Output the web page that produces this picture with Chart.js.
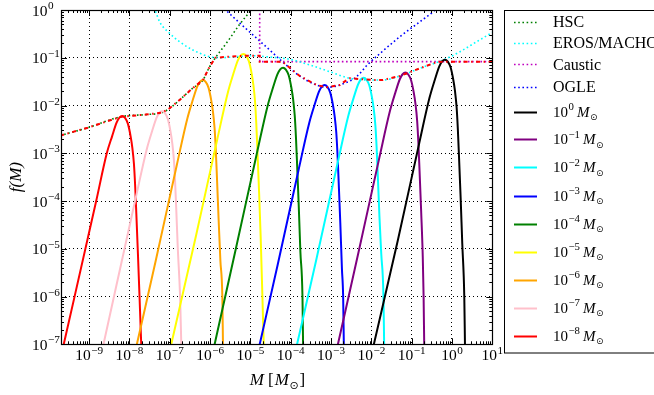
<!DOCTYPE html>
<html><head><meta charset="utf-8">
<script src="https://cdn.jsdelivr.net/npm/chart.js@4.4.1/dist/chart.umd.min.js"></script>
<style>html,body{margin:0;padding:0;background:#fff;}#wrap{position:relative;width:654px;height:395px;}</style>
</head><body><div id="wrap"><canvas id="c" width="654" height="395"></canvas></div>
<script>
// ---- values (log10 of M [M_sun] and log10 of f(M)) ----
const xTickExps = [-9,-8,-7,-6,-5,-4,-3,-2,-1,0,1];
const yTickExps = [0,-1,-2,-3,-4,-5,-6,-7];

const logM_HSC = [-9.72,-9.035,-8.205,-7.6,-7.197,-7.005,-6.757,-6.45,-6.178,-6.012,-5.515,-5.267,-5.018,-4.9];
const logF_HSC = [-2.63,-2.464,-2.234,-2.19,-2.15,-2.058,-1.884,-1.65,-1.466,-1.187,-0.6,-0.3,-0.035,0.1];

const logM_EROS = [-7.40,-7.336,-7.254,-7.005,-6.757,-6.427,-6.012,-5.763,-5.3,-5.0,-4.521,-4.025,-3.528,-3.031,-2.535,-1.963,-1.715,-1.292,-0.795,-0.217,0.198,0.613,1.0];
const logF_EROS = [0.05,-0.069,-0.245,-0.488,-0.664,-0.838,-0.978,-0.999,-0.975,-0.955,-0.985,-1.032,-1.152,-1.292,-1.43,-1.466,-1.466,-1.382,-1.221,-1.047,-0.873,-0.664,-0.47];

const logM_Caustic = [-4.77,-4.77,1.0];
const logF_Caustic = [0.1,-1.082,-1.082];

const logM_OGLE = [-5.65,-5.614,-5.018,-4.521,-4.199,-3.776,-3.362,-3.113,-2.783,-2.368,-2.1,-1.789,-1.292,-0.795,-0.465,-0.40];
const logF_OGLE = [0.03,0.0,-0.461,-0.838,-1.089,-1.382,-1.570,-1.619,-1.570,-1.397,-1.15,-0.913,-0.559,-0.245,-0.036,0.01];

const logM_Env = [-9.72,-9.035,-8.205,-7.6,-7.197,-7.005,-6.757,-6.45,-6.178,-6.012,-5.87,-5.5,-5.0,-4.77,-4.77,-4.25,-4.199,-3.776,-3.362,-3.113,-2.783,-2.6,-2.535,-1.963,-1.715,-1.292,-0.795,-0.35,1.0];
const logF_Env = [-2.63,-2.464,-2.234,-2.19,-2.15,-2.058,-1.884,-1.65,-1.466,-1.187,-1.0,-0.975,-0.955,-0.96,-1.082,-1.082,-1.089,-1.382,-1.570,-1.619,-1.570,-1.46,-1.43,-1.466,-1.466,-1.382,-1.221,-1.082,-1.082];

const logM_1e0 = [-1.938,-1.343,-0.821,-0.558,-0.425,-0.315,-0.245,-0.175,-0.105,-0.035,0.032,0.075,0.115,0.145,0.175,0.215,0.255,0.305,0.322];
const logF_1e0 = [-7,-4.82,-2.82,-1.84,-1.46,-1.18,-1.075,-1.04,-1.08,-1.2,-1.46,-1.70,-2.04,-2.49,-3.09,-3.94,-4.89,-6,-7];

const logM_1e1 = [-2.83,-2.323,-1.801,-1.538,-1.405,-1.295,-1.225,-1.155,-1.085,-1.015,-0.948,-0.905,-0.865,-0.835,-0.805,-0.765,-0.725,-0.704,-0.689];
const logF_1e1 = [-7,-5.09,-3.09,-2.11,-1.73,-1.45,-1.345,-1.31,-1.35,-1.47,-1.73,-1.97,-2.31,-2.76,-3.36,-4.21,-5.16,-6,-7];

const logM_1e2 = [-3.843,-3.358,-2.836,-2.573,-2.44,-2.33,-2.26,-2.19,-2.12,-2.05,-1.983,-1.94,-1.90,-1.87,-1.84,-1.80,-1.755,-1.70,-1.683];
const logF_1e2 = [-7,-5.2,-3.2,-2.22,-1.84,-1.56,-1.455,-1.42,-1.46,-1.58,-1.84,-2.08,-2.42,-2.87,-3.47,-4.32,-5.1,-6,-7];

const logM_1e3 = [-4.77,-4.328,-3.806,-3.543,-3.41,-3.30,-3.23,-3.16,-3.09,-3.02,-2.953,-2.91,-2.87,-2.84,-2.81,-2.77,-2.73,-2.70,-2.683];
const logF_1e3 = [-7,-5.35,-3.35,-2.37,-1.99,-1.71,-1.605,-1.57,-1.61,-1.73,-1.99,-2.23,-2.57,-3.02,-3.62,-4.47,-5.42,-6,-7];

const logM_1e4 = [-5.888,-5.359,-4.837,-4.574,-4.441,-4.331,-4.261,-4.191,-4.121,-4.051,-3.984,-3.941,-3.901,-3.871,-3.841,-3.801,-3.761,-3.709,-3.694];
const logF_1e4 = [-7,-4.988,-2.988,-2.008,-1.628,-1.348,-1.243,-1.208,-1.248,-1.368,-1.628,-1.868,-2.208,-2.658,-3.258,-4.108,-5.058,-6,-7];

const logM_1e5 = [-6.964,-6.343,-5.821,-5.558,-5.425,-5.315,-5.245,-5.175,-5.105,-5.035,-4.968,-4.925,-4.885,-4.855,-4.825,-4.785,-4.745,-4.703,-4.67];
const logF_1e5 = [-7,-4.701,-2.701,-1.721,-1.341,-1.061,-0.956,-0.921,-0.961,-1.081,-1.341,-1.581,-1.921,-2.371,-2.971,-3.821,-4.771,-6,-7];

const logM_1e6 = [-7.817,-7.348,-6.826,-6.563,-6.43,-6.32,-6.25,-6.18,-6.11,-6.04,-5.973,-5.93,-5.89,-5.86,-5.83,-5.79,-5.745,-5.697,-5.681];
const logF_1e6 = [-7,-5.246,-3.246,-2.266,-1.886,-1.606,-1.501,-1.466,-1.506,-1.626,-1.886,-2.126,-2.466,-2.916,-3.516,-4.366,-5.25,-6,-7];

const logM_1e7 = [-8.645,-7.836,-7.573,-7.44,-7.33,-7.26,-7.19,-7.12,-7.05,-6.983,-6.94,-6.90,-6.87,-6.84,-6.80,-6.745,-6.715];
const logF_1e7 = [-7,-3.90,-2.92,-2.54,-2.26,-2.155,-2.12,-2.16,-2.28,-2.54,-2.78,-3.12,-3.57,-4.17,-5.02,-6.0,-7];

const logM_1e8 = [-9.631,-8.826,-8.563,-8.43,-8.32,-8.25,-8.18,-8.11,-8.04,-7.973,-7.93,-7.89,-7.86,-7.83,-7.79,-7.751,-7.709];
const logF_1e8 = [-7,-4,-3,-2.64,-2.36,-2.255,-2.22,-2.26,-2.38,-2.64,-2.88,-3.22,-3.67,-4.27,-5.12,-6.0,-7];

// ---- build datasets ----
const pts = (lm, lf) => lm.map((v, i) => ({x: Math.pow(10, v), y: Math.pow(10, lf[i])}));
const SERIF = '"Liberation Serif","DejaVu Serif",serif';

const constraints = [
  {label:'HSC', color:'#008000', m:logM_HSC, f:logF_HSC, mono:true},
  {label:'EROS/MACHO', color:'#00ffff', m:logM_EROS, f:logF_EROS, mono:true},
  {label:'Caustic', color:'#bf00bf', m:logM_Caustic, f:logF_Caustic, mono:false},
  {label:'OGLE', color:'#0000ff', m:logM_OGLE, f:logF_OGLE, mono:true}
];
const masses = [
  {exp:'0', color:'#000000', m:logM_1e0, f:logF_1e0},
  {exp:'\u22121', color:'#800080', m:logM_1e1, f:logF_1e1},
  {exp:'\u22122', color:'#00ffff', m:logM_1e2, f:logF_1e2},
  {exp:'\u22123', color:'#0000ff', m:logM_1e3, f:logF_1e3},
  {exp:'\u22124', color:'#008000', m:logM_1e4, f:logF_1e4},
  {exp:'\u22125', color:'#ffff00', m:logM_1e5, f:logF_1e5},
  {exp:'\u22126', color:'#ffa500', m:logM_1e6, f:logF_1e6},
  {exp:'\u22127', color:'#ffc0cb', m:logM_1e7, f:logF_1e7},
  {exp:'\u22128', color:'#ff0000', m:logM_1e8, f:logF_1e8}
];
const supMap = {'0':'\u2070','1':'\u00b9','2':'\u00b2','3':'\u00b3','4':'\u2074','5':'\u2075','6':'\u2076','7':'\u2077','8':'\u2078','9':'\u2079','\u2212':'\u207b'};
const toSup = s => s.split('').map(ch => supMap[ch] || ch).join('');

const datasets = [];
constraints.forEach(c => datasets.push({
  label: c.label, data: pts(c.m, c.f), borderColor: c.color, borderWidth: 1.6,
  borderDash: [1.6, 2.6], borderCapStyle: 'butt', pointRadius: 0, fill: false,
  cubicInterpolationMode: c.mono ? 'monotone' : 'default', tension: 0, order: 3, legendStyle: 'dot'
}));
masses.forEach(s => datasets.push({
  label: '10' + toSup(s.exp) + ' M\u2299', data: pts(s.m, s.f), borderColor: s.color, borderWidth: 2,
  pointRadius: 0, fill: false, cubicInterpolationMode: 'monotone', order: 2, supExp: s.exp
}));
datasets.push({
  label: 'combined', data: pts(logM_Env, logF_Env), borderColor: '#ff0000', borderWidth: 2,
  borderDash: [4, 3.5, 1.5, 3.5], borderCapStyle: 'butt', pointRadius: 0, fill: false, tension: 0, order: 1, hideLegend: true
});

// ---- drawing helpers ----
function drawPow(ctx, x, y, sup, size, align) {
  ctx.font = size + 'px ' + SERIF;
  const wb = ctx.measureText('10').width;
  const ss = Math.round(size * 0.72 * 10) / 10;
  ctx.font = ss + 'px ' + SERIF;
  const ws = ctx.measureText(sup).width;
  const total = wb + 0.5 + ws;
  const x0 = align === 'center' ? x - total / 2 : (align === 'right' ? x - total : x);
  ctx.textAlign = 'left'; ctx.textBaseline = 'alphabetic';
  ctx.font = size + 'px ' + SERIF; ctx.fillText('10', x0, y);
  ctx.font = ss + 'px ' + SERIF; ctx.fillText(sup, x0 + wb + 0.5, y - size * 0.42);
  return x0 + total;
}
function drawMsun(ctx, x, y, size) {
  ctx.textAlign = 'left'; ctx.textBaseline = 'alphabetic';
  ctx.font = 'italic ' + size + 'px ' + SERIF;
  ctx.fillText('M', x, y);
  const w = ctx.measureText('M').width;
  ctx.font = Math.round(size * 0.62) + 'px "DejaVu Sans",sans-serif';
  ctx.fillText('\u2299', x + w + 0.5, y + size * 0.22);
  return x + w + 0.5 + ctx.measureText('\u2299').width;
}

const decorPlugin = {
  id: 'decor',
  afterDatasetsDraw(chart) {
    const ctx = chart.ctx, a = chart.chartArea;
    const xs = chart.scales.x, ys = chart.scales.y;
    ctx.save();
    ctx.strokeStyle = '#000'; ctx.lineWidth = 1; ctx.setLineDash([]);
    ctx.beginPath();
    for (let d = -10; d <= 1; d++) {
      for (let k = 1; k <= 9; k++) {
        const v = k * Math.pow(10, d);
        if (v < xs.min * 0.999 || v > xs.max * 1.001) continue;
        const px = Math.round(xs.getPixelForValue(v)) + 0.5;
        const L = k === 1 ? 6 : 3;
        ctx.moveTo(px, a.bottom); ctx.lineTo(px, a.bottom - L);
        ctx.moveTo(px, a.top); ctx.lineTo(px, a.top + L);
      }
    }
    for (let d = -7; d <= 0; d++) {
      for (let k = 1; k <= 9; k++) {
        const v = k * Math.pow(10, d);
        if (v < ys.min * 0.999 || v > ys.max * 1.001) continue;
        const py = Math.round(ys.getPixelForValue(v)) + 0.5;
        const L = k === 1 ? 6 : 3;
        ctx.moveTo(a.left, py); ctx.lineTo(a.left + L, py);
        ctx.moveTo(a.right, py); ctx.lineTo(a.right - L, py);
      }
    }
    ctx.stroke();
    ctx.lineWidth = 1.2;
    ctx.strokeRect(Math.round(a.left) + 0.5, Math.round(a.top) + 0.5, Math.round(a.right - a.left), Math.round(a.bottom - a.top));
    ctx.fillStyle = '#000';
    xs.ticks.forEach(t => {
      const e = Math.round(Math.log10(t.value));
      drawPow(ctx, xs.getPixelForValue(t.value), a.bottom + 16, String(e).replace('-', '\u2212'), 15.5, 'center');
    });
    ys.ticks.forEach(t => {
      const e = Math.round(Math.log10(t.value));
      drawPow(ctx, 32, ys.getPixelForValue(t.value) + 5.5, String(e).replace('-', '\u2212'), 15.5, 'left');
    });
    let x = (a.left + a.right) / 2 - 27;
    const by = 385;
    ctx.font = 'italic 17px ' + SERIF; ctx.fillText('M', x, by); x += ctx.measureText('M ').width;
    ctx.font = '17px ' + SERIF; ctx.fillText('[', x, by); x += ctx.measureText('[').width + 1;
    x = drawMsun(ctx, x, by, 17);
    ctx.font = '17px ' + SERIF; ctx.fillText(']', x + 1, by);
    ctx.save();
    ctx.translate(21, (a.top + a.bottom) / 2);
    ctx.rotate(-Math.PI / 2);
    ctx.textAlign = 'center';
    ctx.font = 'italic 17px ' + SERIF;
    ctx.fillText('f(M)', 0, 0);
    ctx.restore();
    ctx.lineWidth = 1; ctx.strokeStyle = '#000';
    ctx.strokeRect(504.5, 10.5, 220, 342.5);
    const rowsY = [21.7, 42.7, 64.3, 86.7, 111.7, 139.3, 167.3, 195.7, 223.7, 251.7, 279.7, 307.7, 335.7];
    const legendSets = chart.data.datasets.filter(d => !d.hideLegend);
    legendSets.forEach((d, i) => {
      const y = rowsY[i];
      ctx.save();
      ctx.strokeStyle = d.borderColor;
      if (d.legendStyle === 'dot') { ctx.lineWidth = 1.6; ctx.setLineDash([1.6, 2.6]); }
      else { ctx.lineWidth = 2; ctx.setLineDash([]); }
      ctx.beginPath(); ctx.moveTo(514, Math.round(y) + 0.5); ctx.lineTo(537, Math.round(y) + 0.5); ctx.stroke();
      ctx.restore();
      ctx.fillStyle = '#000';
      if (d.supExp !== undefined) {
        const xe = drawPow(ctx, 553, y + 5, d.supExp, 15, 'left');
        drawMsun(ctx, xe + 3, y + 5, 15);
      } else {
        ctx.font = '16px ' + SERIF; ctx.textAlign = 'left'; ctx.textBaseline = 'alphabetic';
        ctx.fillText(d.label, 553, y + 5.5);
      }
    });
    ctx.restore();
  }
};

new Chart(document.getElementById('c'), {
  type: 'line',
  data: { datasets },
  options: {
    responsive: false, animation: false, devicePixelRatio: 1,
    layout: { padding: { left: 0, right: 161.7, top: 10, bottom: 0 } },
    plugins: { legend: { display: false }, tooltip: { enabled: false } },
    scales: {
      x: {
        type: 'logarithmic', min: 2e-10, max: 10,
        afterBuildTicks: s => { s.ticks = xTickExps.map(e => ({ value: Math.pow(10, e) })); },
        afterFit: s => { s.height = 50.7; },
        ticks: { display: false },
        grid: { color: '#000', lineWidth: 1, drawTicks: false },
        border: { display: false, dash: [1, 3] }
      },
      y: {
        type: 'logarithmic', min: 1e-7, max: 1,
        afterBuildTicks: s => { s.ticks = yTickExps.map(e => ({ value: Math.pow(10, e) })); },
        afterFit: s => { s.width = 61; },
        ticks: { display: false },
        grid: { color: '#000', lineWidth: 1, drawTicks: false },
        border: { display: false, dash: [1, 3] }
      }
    }
  },
  plugins: [decorPlugin]
});
</script></body></html>
